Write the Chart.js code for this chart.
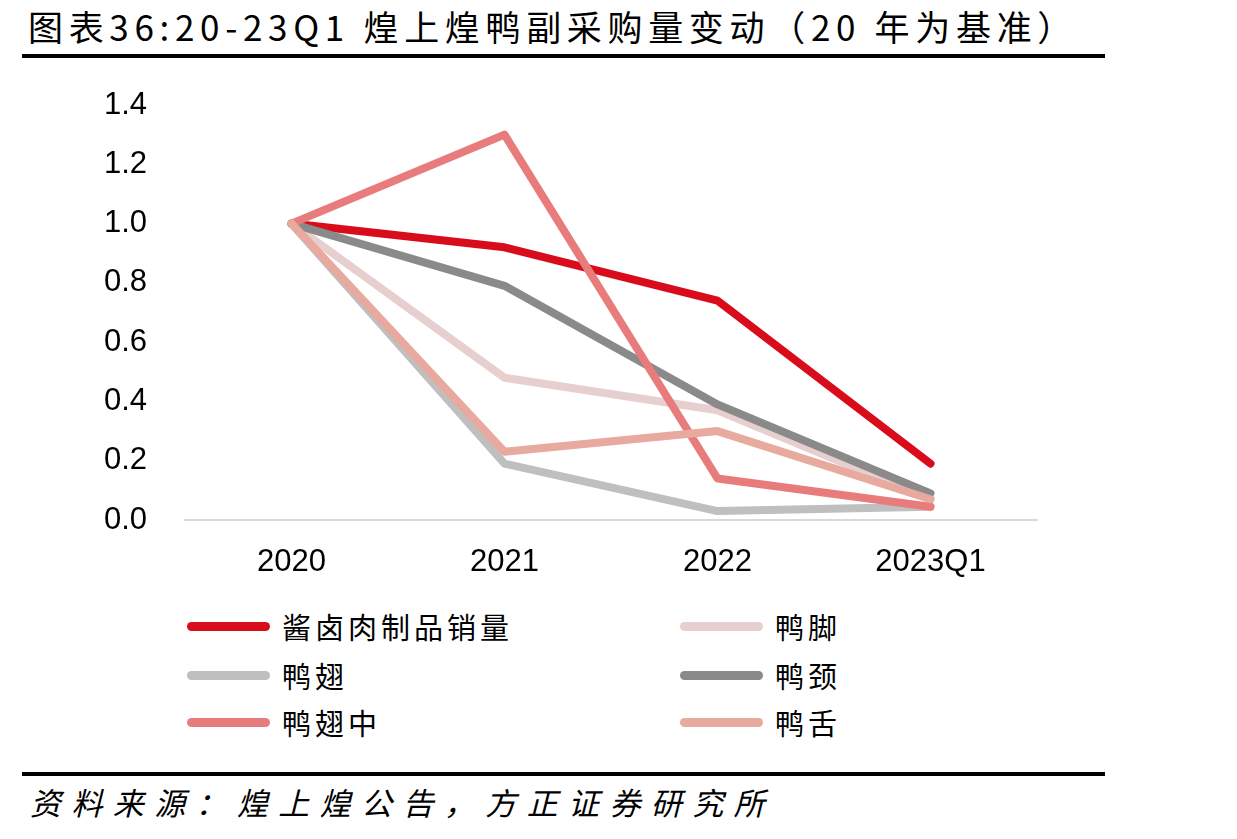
<!DOCTYPE html>
<html>
<head>
<meta charset="utf-8">
<script src="https://cdn.jsdelivr.net/npm/chart.js@4.4.0/dist/chart.umd.min.js"></script>
<style>
    body { margin: 0; background: #fff; width: 1237px; height: 839px; position: relative; overflow: hidden;
           font-family: "Noto Sans CJK SC", sans-serif; color: #000; }
    #title { position: absolute; left: 28px; top: 3px; font-size: 35px; line-height: 46px; white-space: nowrap; }
    .rule { position: absolute; left: 22px; width: 1083px; height: 4px; background: #000; }
    #chartBox { position: absolute; left: 0; top: 40px; }
    #chartBox canvas { display: block; }
    .leg { position: absolute; display: flex; align-items: center; height: 40px; white-space: nowrap; }
    .leg .swatch { width: 83px; height: 9px; border-radius: 5px; }
    .leg .label { margin-left: 12px; font-size: 29px; line-height: 40px; }
    #source { position: absolute; left: 30px; top: 780px; font-size: 31px; line-height: 44px; font-style: italic; white-space: nowrap; }
</style>
</head>
<body>
<div id="title">图表36:20-23Q1 煌上煌鸭副采购量变动（20 年为基准）</div>
<div class="rule" style="top:54px"></div>
<div id="chartBox"><canvas id="chart" width="1237" height="558"></canvas></div>
<div id="legend"></div>
<div class="rule" style="top:772px"></div>
<div id="source">资料来源：煌上煌公告，方正证券研究所</div>

<script>
// Data (2020 = 1.0)
const categories = ['2020', '2021', '2022', '2023Q1'];
const seriesNames = ['酱卤肉制品销量', '鸭脚', '鸭翅', '鸭颈', '鸭翅中', '鸭舌'];
const sauceMeat  = [1.0, 0.92, 0.74, 0.19];
const duckFeet   = [1.0, 0.48, 0.37, 0.07];
const duckWing   = [1.0, 0.19, 0.03, 0.045];
const duckNeck   = [1.0, 0.79, 0.39, 0.09];
const wingMid    = [1.0, 1.30, 0.14, 0.045];
const duckTongue = [1.0, 0.23, 0.30, 0.07];
const yMin = 0, yMax = 1.4, yStep = 0.2;

const colors = ['#d90c1b', '#e8cfcf', '#bfbfbf', '#8a8a8a', '#e87c7c', '#e8a99f'];
const seriesValues = [sauceMeat, duckFeet, duckWing, duckNeck, wingMid, duckTongue];

// later series sit on top, like the original
const datasets = seriesNames.map((name, i) => ({
    label: name,
    data: seriesValues[i],
    borderColor: colors[i],
    backgroundColor: colors[i],
    borderWidth: 8,
    borderCapStyle: 'round',
    borderJoinStyle: 'round',
    pointRadius: 0,
    tension: 0,
    order: seriesNames.length - i
}));

const tickFont = { family: '"Liberation Sans", Arial, sans-serif', size: 31 };

new Chart(document.getElementById('chart'), {
    type: 'line',
    data: { labels: categories, datasets: datasets },
    options: {
        responsive: false,
        animation: false,
        layout: { padding: { top: 65, right: 200, left: 0, bottom: 0 } },
        plugins: { legend: { display: false }, tooltip: { enabled: false } },
        scales: {
            x: {
                offset: true,
                grid: { display: false, drawTicks: false },
                border: { display: true, color: '#d9d9d9', width: 2 },
                ticks: { color: '#000', font: tickFont, padding: 24, maxRotation: 0 },
                afterFit: (scale) => { scale.height = 78; }
            },
            y: {
                min: yMin,
                max: yMax,
                grid: { display: false, drawTicks: false },
                border: { display: false },
                ticks: {
                    stepSize: yStep,
                    color: '#000',
                    font: tickFont,
                    padding: 38,
                    callback: (v) => Number(v).toFixed(1)
                },
                afterFit: (scale) => { scale.width = 185; }
            }
        }
    }
});

// Legend: two columns, row by row
const legendEl = document.getElementById('legend');
const colX = [187, 680];
const rowY = [606, 655, 702];
seriesNames.forEach((name, i) => {
    const item = document.createElement('div');
    item.className = 'leg';
    item.style.left = colX[i % 2] + 'px';
    item.style.top = rowY[Math.floor(i / 2)] + 'px';
    item.innerHTML = `<span class="swatch" style="background:${colors[i]}"></span><span class="label">${name}</span>`;
    legendEl.appendChild(item);
});

// stretch text to the width it takes in the reference
function fitWidth(el, target) {
    el.style.letterSpacing = '0px';
    const w = el.getBoundingClientRect().width;
    const n = el.textContent.length;
    el.style.letterSpacing = ((target - w) / n) + 'px';
}
fitWidth(document.getElementById('title'), 1050);
fitWidth(document.getElementById('source'), 745);
document.querySelectorAll('.leg .label').forEach(el => {
    const n = el.textContent.length;
    fitWidth(el, n * 33);
});
</script>
</body>
</html>
